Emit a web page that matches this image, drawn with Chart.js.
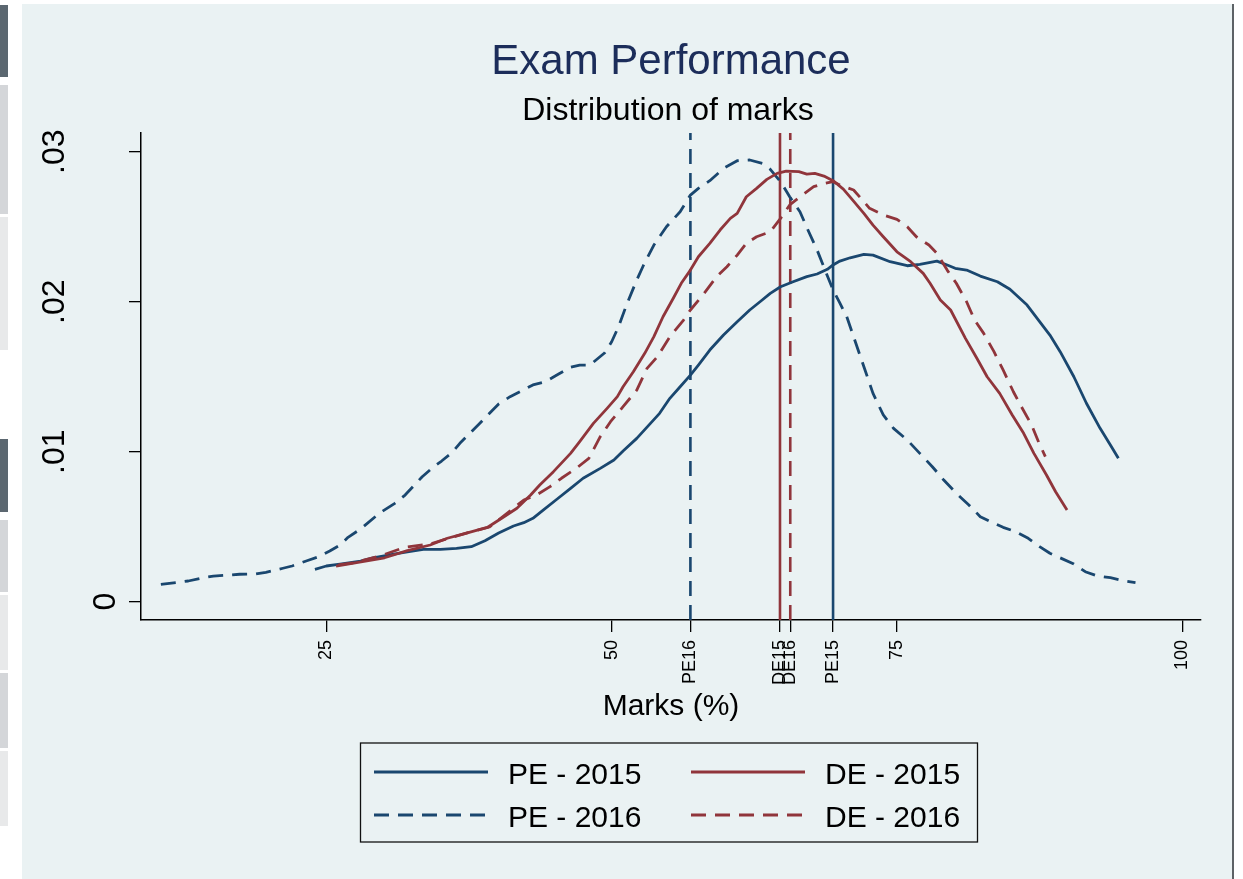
<!DOCTYPE html>
<html><head><meta charset="utf-8">
<script src="https://cdn.jsdelivr.net/npm/chart.js@4.4.1/dist/chart.umd.min.js"></script>
<style>
html,body{margin:0;padding:0;background:#fff;width:1243px;height:879px;overflow:hidden;position:relative;font-family:"Liberation Sans",Arial,sans-serif;}
#bg{position:absolute;left:22px;top:4px;width:1210px;height:875px;background:#eaf2f3;}
#edge{position:absolute;left:1232px;top:4px;width:2px;height:875px;background:#5d6266;}
#wrap{position:absolute;left:22px;top:4px;width:1210px;height:874px;}
.strip{position:absolute;left:0;width:8px;}
#ov{position:absolute;left:0;top:0;}
</style></head>
<body>
<div class="strip" style="top:5px;height:72px;background:#5b6770"></div>
<div class="strip" style="top:85px;height:129px;background:#d4d6d9"></div>
<div class="strip" style="top:217px;height:133px;background:#e8e9ea"></div>
<div class="strip" style="top:439px;height:73px;background:#5b6770"></div>
<div class="strip" style="top:520px;height:72px;background:#d4d6d9"></div>
<div class="strip" style="top:595px;height:75px;background:#e8e9ea"></div>
<div class="strip" style="top:673px;height:75px;background:#d4d6d9"></div>
<div class="strip" style="top:751px;height:75px;background:#e8e9ea"></div>
<div id="bg"></div>
<div id="edge"></div>
<div id="wrap"><canvas id="c" width="1210" height="874" style="width:1210px;height:874px"></canvas></div>
<svg id="ov" width="1243" height="879" xmlns="http://www.w3.org/2000/svg"></svg>
<script>
// ---- data ----
const seriesNames = ['PE - 2015', 'DE - 2015', 'PE - 2016', 'DE - 2016'];
const xTickValues = [25, 50, 75, 100];
const meanNames = ['PE16', 'DE15', 'DE16', 'PE15'];
const meanMarks = [56.9, 64.75, 65.65, 69.4];
const yTickValues = [0, 0.01, 0.02, 0.03];
const yTickLabels = ['0', '.01', '.02', '.03'];

const pe2015 = [[24.0,0.00216],[25.0,0.00238],[26.2,0.00251],[28.0,0.00271],[29.1,0.00293],[30.9,0.00318],[32.1,0.00333],[33.5,0.00349],[35.0,0.00349],[36.4,0.00356],[37.7,0.00367],[38.9,0.00407],[40.1,0.00458],[41.4,0.00505],[42.3,0.00527],[43.1,0.00556],[44.0,0.00611],[45.2,0.00683],[46.4,0.00756],[47.5,0.00823],[49.0,0.00889],[50.2,0.00945],[51.0,0.01005],[52.2,0.01089],[53.4,0.01189],[54.2,0.01256],[55.1,0.01356],[56.0,0.01433],[56.9,0.01511],[57.6,0.01578],[58.6,0.01678],[59.8,0.01778],[61.0,0.01867],[62.1,0.01945],[63.0,0.02000],[63.9,0.02056],[64.8,0.02100],[65.9,0.02133],[67.1,0.02167],[68.0,0.02185],[68.9,0.02216],[69.4,0.02245],[70.0,0.02271],[70.9,0.02293],[72.1,0.02316],[72.9,0.02311],[74.4,0.02267],[75.9,0.02240],[77.0,0.02249],[78.5,0.02271],[79.4,0.02245],[80.1,0.02223],[81.1,0.02211],[82.3,0.02171],[83.8,0.02133],[84.9,0.02083],[86.4,0.01978],[87.5,0.01867],[88.4,0.01778],[89.3,0.01667],[90.5,0.01500],[91.6,0.01323],[92.8,0.01156],[93.7,0.01045],[94.4,0.00956]];

const pe2016 = [[10.5,0.00116],[12.0,0.00129],[12.9,0.00138],[14.2,0.00160],[15.1,0.00171],[16.6,0.00178],[17.4,0.00183],[18.8,0.00185],[19.7,0.00196],[21.2,0.00223],[22.0,0.00238],[23.3,0.00273],[24.2,0.00296],[25.3,0.00338],[26.2,0.00378],[26.9,0.00429],[28.0,0.00485],[29.7,0.00593],[31.0,0.00656],[31.9,0.00711],[33.4,0.00833],[34.4,0.00900],[35.1,0.00938],[36.0,0.00993],[36.7,0.01056],[37.7,0.01133],[38.3,0.01178],[39.3,0.01256],[40.1,0.01318],[41.1,0.01367],[43.1,0.01445],[44.2,0.01467],[45.2,0.01511],[46.4,0.01563],[47.2,0.01578],[48.1,0.01578],[49.4,0.01660],[50.0,0.01733],[50.6,0.01833],[51.3,0.01978],[52.2,0.02145],[52.8,0.02245],[53.7,0.02378],[54.8,0.02500],[56.0,0.02600],[56.9,0.02711],[57.6,0.02756],[58.6,0.02807],[59.8,0.02889],[61.0,0.02940],[62.1,0.02945],[63.2,0.02923],[63.9,0.02883],[64.8,0.02800],[65.6,0.02700],[66.5,0.02600],[67.2,0.02478],[68.0,0.02345],[68.7,0.02211],[69.4,0.02078],[70.0,0.01991],[70.6,0.01900],[71.5,0.01700],[72.2,0.01545],[72.9,0.01389],[73.8,0.01245],[74.7,0.01156],[75.9,0.01078],[77.0,0.00989],[78.1,0.00900],[79.1,0.00811],[80.2,0.00723],[81.3,0.00645],[82.3,0.00567],[83.2,0.00533],[84.3,0.00496],[85.4,0.00467],[86.5,0.00423],[87.5,0.00367],[88.4,0.00323],[89.4,0.00289],[90.5,0.00251],[91.5,0.00200],[92.5,0.00173],[93.7,0.00160],[94.8,0.00140],[95.9,0.00127]];

const de2015 = [[25.85,0.00238],[30.1,0.00293],[32.1,0.00340],[34.1,0.00378],[35.6,0.00423],[37.2,0.00456],[39.1,0.00495],[40.5,0.00563],[41.7,0.00623],[42.9,0.00711],[43.7,0.00778],[44.9,0.00867],[46.4,0.00989],[47.2,0.01067],[48.4,0.01189],[49.6,0.01289],[50.5,0.01367],[51.0,0.01433],[51.9,0.01533],[52.9,0.01656],[53.7,0.01767],[54.5,0.01900],[55.4,0.02023],[56.1,0.02123],[56.9,0.02211],[57.6,0.02300],[58.6,0.02389],[59.5,0.02478],[60.4,0.02556],[61.0,0.02589],[61.8,0.02700],[62.7,0.02756],[63.6,0.02816],[64.5,0.02856],[65.3,0.02871],[66.4,0.02867],[67.1,0.02851],[67.8,0.02856],[68.6,0.02838],[69.4,0.02807],[70.3,0.02751],[70.9,0.02698],[72.1,0.02589],[72.9,0.02511],[73.8,0.02433],[75.0,0.02333],[76.2,0.02267],[77.3,0.02189],[77.9,0.02123],[78.8,0.02011],[79.7,0.01945],[81.0,0.01756],[82.0,0.01623],[82.9,0.01500],[84.0,0.01389],[85.1,0.01245],[86.1,0.01123],[87.0,0.00989],[88.1,0.00845],[88.9,0.00733],[89.9,0.00611]];

const de2016 = [[26.05,0.00245],[27.4,0.00260],[29.7,0.00305],[31.9,0.00363],[34.1,0.00385],[35.8,0.00425],[37.9,0.00471],[39.3,0.00498],[42.3,0.00678],[43.4,0.00711],[44.6,0.00767],[45.6,0.00823],[46.9,0.00889],[48.0,0.00956],[49.0,0.01100],[49.9,0.01200],[51.0,0.01300],[52.2,0.01411],[53.1,0.01556],[54.0,0.01633],[55.1,0.01767],[56.3,0.01878],[56.9,0.01945],[58.0,0.02045],[59.2,0.02167],[60.1,0.02233],[61.0,0.02311],[61.8,0.02389],[62.7,0.02433],[63.9,0.02467],[64.8,0.02556],[65.6,0.02645],[66.5,0.02700],[67.7,0.02767],[68.6,0.02789],[69.4,0.02800],[70.0,0.02778],[71.2,0.02745],[72.1,0.02667],[72.6,0.02623],[73.8,0.02578],[75.0,0.02549],[75.9,0.02500],[76.7,0.02433],[77.8,0.02378],[78.5,0.02323],[79.4,0.02211],[80.2,0.02123],[81.1,0.02000],[81.8,0.01878],[82.6,0.01789],[83.5,0.01667],[84.3,0.01545],[85.2,0.01400],[85.9,0.01300],[86.8,0.01178],[87.4,0.01067],[88.0,0.00967]];

// ---- styling ----
const navy = '#1a476f', maroon = '#90353b';
const dash = [15, 9];
const FONT = '"Liberation Sans", Arial, sans-serif';
const yMin = -0.00122, yMax = 0.03125, xMin = 8.76, xMax = 101.64;

const pts = a => a.map(p => ({x: p[0], y: p[1]}));
const curveStyle = {
  'PE - 2015': {color: navy, dash: []},
  'DE - 2015': {color: maroon, dash: []},
  'PE - 2016': {color: navy, dash: dash},
  'DE - 2016': {color: maroon, dash: dash}
};
const curveData = {'PE - 2015': pe2015, 'PE - 2016': pe2016, 'DE - 2015': de2015, 'DE - 2016': de2016};
const drawOrder = {'PE - 2015': 4, 'PE - 2016': 3, 'DE - 2015': 2, 'DE - 2016': 1};

const datasets = [];
meanNames.forEach((n, i) => {
  datasets.push({
    label: n, data: [{x: meanMarks[i], y: yMin}, {x: meanMarks[i], y: yMax}],
    borderColor: n.startsWith('PE') ? navy : maroon,
    borderDash: n.endsWith('16') ? dash : [], borderWidth: 2.6, order: 10
  });
});
seriesNames.forEach(n => {
  datasets.push({
    label: n, data: pts(curveData[n]), borderColor: curveStyle[n].color,
    borderDash: curveStyle[n].dash, borderWidth: 2.8, order: drawOrder[n]
  });
});

const yLabelPlugin = {
  id: 'yLabels',
  afterDraw(chart) {
    const s = chart.scales.y, ctx = chart.ctx;
    yTickValues.forEach((v, i) => {
      const t = yTickLabels[i];
      ctx.save();
      ctx.font = '32px ' + FONT;
      ctx.fillStyle = '#000';
      ctx.textAlign = 'center';
      ctx.textBaseline = 'middle';
      const w = ctx.measureText(t).width;
      const y = s.getPixelForValue(v);
      const x = chart.chartArea.left - 1.93 * w;
      ctx.translate(x, y);
      ctx.rotate(-Math.PI / 2);
      ctx.fillText(t, 0, 0);
      ctx.restore();
    });
  }
};

new Chart(document.getElementById('c'), {
  type: 'line',
  data: {datasets},
  plugins: [yLabelPlugin],
  options: {
    responsive: false, animation: false, events: [],
    layout: {padding: {left: 0, top: 129, right: 31, bottom: 148}},
    plugins: {legend: {display: false}, tooltip: {enabled: false}, title: {display: false}},
    elements: {point: {radius: 0}, line: {tension: 0, fill: false, borderCapStyle: 'butt', borderJoinStyle: 'round'}},
    scales: {
      x: {
        type: 'linear', min: xMin, max: xMax,
        afterBuildTicks: s => { s.ticks = xTickValues.concat(meanMarks).sort((a, b) => a - b).map(v => ({value: v})); },
        afterFit: s => { s.height = 110; },
        grid: {drawOnChartArea: false, drawTicks: true, tickLength: 12, color: '#000', lineWidth: 1.3},
        border: {display: true, color: '#000', width: 1.5},
        ticks: {
          autoSkip: false, minRotation: 90, maxRotation: 90, padding: 8, color: '#000',
          font: {family: FONT, size: 18},
          callback: v => { const i = meanMarks.indexOf(v); return i >= 0 ? meanNames[i] : String(v); }
        },
        title: {display: true, text: 'Marks (%)', color: '#000', font: {family: FONT, size: 30, lineHeight: 1}, padding: {top: 0, bottom: 8}}
      },
      y: {
        type: 'linear', min: yMin, max: yMax,
        afterBuildTicks: s => { s.ticks = yTickValues.map(v => ({value: v})); },
        afterFit: s => { s.width = 119; },
        grid: {drawOnChartArea: false, drawTicks: true, tickLength: 12, color: '#000', lineWidth: 1.3},
        border: {display: true, color: '#000', width: 1.5},
        ticks: {display: false}
      }
    }
  }
});

// ---- titles & legend (text overlay) ----
const NS = 'http://www.w3.org/2000/svg';
const ov = document.getElementById('ov');
function el(tag, attrs, text) {
  const e = document.createElementNS(NS, tag);
  for (const k in attrs) e.setAttribute(k, attrs[k]);
  if (text) e.textContent = text;
  ov.appendChild(e);
  return e;
}
el('text', {x: 671, y: 74, 'text-anchor': 'middle', 'font-family': FONT, 'font-size': 42, fill: '#1c2d5a'}, 'Exam Performance');
el('text', {x: 668, y: 120, 'text-anchor': 'middle', 'font-family': FONT, 'font-size': 32, fill: '#000'}, 'Distribution of marks');
el('rect', {x: 360.5, y: 743, width: 617, height: 99, fill: 'none', stroke: '#111', 'stroke-width': 1.3});
const legendCols = [374, 691];
const legendRows = [772, 815];
seriesNames.forEach((n, i) => {
  const cx = legendCols[i % 2], ry = legendRows[Math.floor(i / 2)];
  el('line', {x1: cx, y1: ry, x2: cx + 114, y2: ry, stroke: curveStyle[n].color, 'stroke-width': 2.8,
    'stroke-dasharray': curveStyle[n].dash.length ? curveStyle[n].dash.join(' ') : 'none'});
  el('text', {x: cx + 134, y: ry + 12, 'font-family': FONT, 'font-size': 30, fill: '#000'}, n);
});
</script>
</body></html>
